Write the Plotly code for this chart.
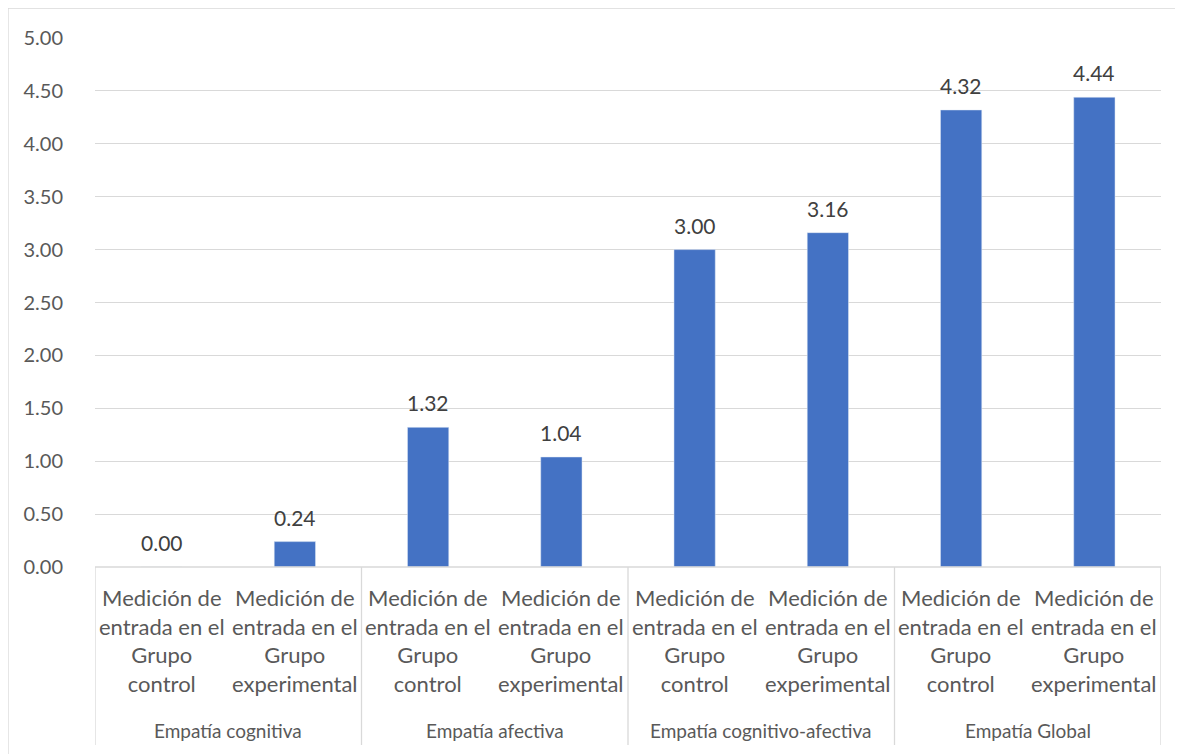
import plotly.graph_objects as go

groups = ["Empatía cognitiva", "Empatía afectiva", "Empatía cognitivo-afectiva", "Empatía Global"]
sub_labels = ["Medición de<br>entrada en el<br>Grupo<br>control",
              "Medición de<br>entrada en el<br>Grupo<br>experimental"]
values = [0.00, 0.24, 1.32, 1.04, 3.00, 3.16, 4.32, 4.44]
y_ticks = [0, 0.5, 1, 1.5, 2, 2.5, 3, 3.5, 4, 4.5, 5]

cats = []
subs = []
for g in groups:
    for s in sub_labels:
        cats.append(g + " | " + s)
        subs.append(s)

FONT = "Lato"
TXT = "#595959"
GRID = "#d9d9d9"

fig = go.Figure(go.Bar(x=cats, y=values, marker_color="#4472C4", width=0.31))

# page body adds an 8px offset; compensate
OFF = 8
W, H = 1183, 754
L, T = 95 - OFF, 38 - OFF
pw, ph = 1066, 529
R = W - L - pw
B = H - T - ph

ann = []
for c, v in zip(cats, values):
    ann.append(dict(x=c, y=v, xref="x", yref="y", text=f"{v:.2f}", showarrow=False,
                    yanchor="bottom", yshift=10, font=dict(family=FONT, size=21, color="#404040")))
for c, s in zip(cats, subs):
    ann.append(dict(x=c, y=-(640 - 567) / ph, xref="x", yref="paper", text=s, showarrow=False,
                    yanchor="middle", font=dict(family=FONT, size=22, color=TXT)))
for i, g in enumerate(groups):
    ann.append(dict(x=2 * i + 0.5, y=-(730 - 567) / ph, xref="x", yref="paper", text=g,
                    showarrow=False, yanchor="middle", font=dict(family=FONT, size=19, color=TXT)))

shapes = []
for i in range(len(groups) + 1):
    shapes.append(dict(type="line", xref="x", yref="paper", x0=2 * i - 0.5, x1=2 * i - 0.5,
                       y0=0, y1=-(745 - 567) / ph, line=dict(color=GRID, width=1.3)))
shapes.append(dict(type="line", xref="paper", yref="paper", x0=0, x1=1, y0=0, y1=0,
                   line=dict(color=GRID, width=1.3)))
# chart border
shapes.append(dict(type="rect", xref="paper", yref="paper",
                   x0=(8 - 95) / pw, x1=(W + 20 - 95) / pw,
                   y0=-(H + 20 - 567) / ph, y1=1 + (38 - 8) / ph,
                   line=dict(color=GRID, width=1.3), fillcolor="rgba(0,0,0,0)"))

fig.update_layout(
    width=W, height=H,
    margin=dict(l=L, r=R, t=T, b=B, autoexpand=False),
    paper_bgcolor="white", plot_bgcolor="white",
    showlegend=False,
    annotations=ann, shapes=shapes,
    font=dict(family=FONT, size=20, color=TXT),
    xaxis=dict(type="category", showticklabels=False, showgrid=False, zeroline=False,
               showline=False, ticks="", range=[-0.5, 7.5]),
    yaxis=dict(range=[0, 5], tickvals=y_ticks, tickformat=".2f", showgrid=True, gridcolor=GRID,
               gridwidth=1.3, zeroline=False, showline=False, ticks="",
               ticklabelstandoff=31, tickfont=dict(family=FONT, size=20, color=TXT)),
)

fig.write_html("out.html")
